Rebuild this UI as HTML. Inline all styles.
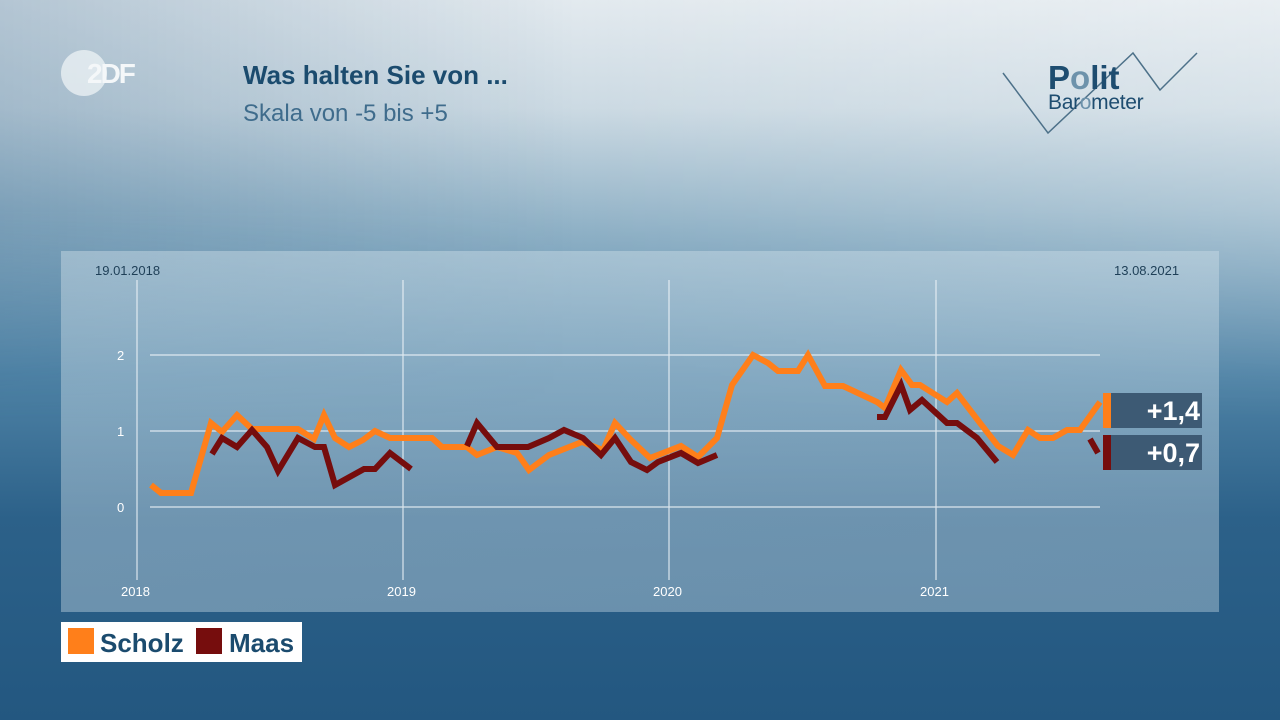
<!DOCTYPE html>
<html><head><meta charset="utf-8"><style>
html,body{margin:0;padding:0}
body{width:1280px;height:720px;overflow:hidden;position:relative;font-family:"Liberation Sans",sans-serif;
background:linear-gradient(180deg,#e3eaef 0%,#ccdae3 15%,#8fb1c6 32%,#4f83a6 52%,#2c6189 72%,#235780 100%);}
.t{position:absolute;white-space:nowrap}
</style></head><body>
<div style="position:absolute;left:0;top:0;width:1280px;height:420px;background:linear-gradient(90deg,rgba(40,90,130,0.25) 0%,rgba(255,255,255,0) 45%,rgba(255,255,255,0.22) 100%);-webkit-mask-image:linear-gradient(180deg,#000 0%,#000 50%,transparent 100%);mask-image:linear-gradient(180deg,#000 0%,#000 50%,transparent 100%)"></div>
<svg width="1280" height="720" style="position:absolute;left:0;top:0">
<defs><linearGradient id="p" x1="0" y1="0" x2="1" y2="1">
<stop offset="0" stop-color="#dbe8ef" stop-opacity="0.4"/><stop offset="1" stop-color="#c9dbe6" stop-opacity="0.4"/></linearGradient></defs>
<rect x="61" y="251" width="1158" height="361" fill="url(#p)"/>
<g stroke="#eef4f8" stroke-width="1.2" opacity="0.85">
<line x1="150" y1="355" x2="1100" y2="355"/><line x1="150" y1="431" x2="1100" y2="431"/><line x1="150" y1="507" x2="1100" y2="507"/>
<line x1="137" y1="280" x2="137" y2="580"/><line x1="403" y1="280" x2="403" y2="580"/><line x1="669" y1="280" x2="669" y2="580"/><line x1="936" y1="280" x2="936" y2="580"/>
</g>
<g fill="none" stroke-width="6" stroke-linejoin="miter" stroke-linecap="butt">
<polyline stroke="#ff7f1a" points="151,485 161,493 191,493 211,423 222,432 237,415 252,429 298,429 314,439 324,415 335,438 349,447 363,440 375,431 390,438 432,438 442,447 467,447 477,455 497,447 517,453 529,470 549,455 582,442 603,450 615,423 631,440 650,458 681,446 698,457 717,438 732,385 753,355 768,363 778,371 798,371 808,355 825,386 843,386 877,402 885,408 901,370 912,385 920,385 947,402 957,393 980,423 998,446 1013,455 1028,430 1040,438 1053,438 1067,430 1080,430 1100,402"/>
<polyline stroke="#760d0d" points="212,454 222,438 237,447 252,430 267,447 278,471 298,438 315,447 324,447 335,485 364,469 375,469 390,453 411,469"/>
<polyline stroke="#760d0d" points="467,446 477,423 497,447 528,447 549,438 564,430 583,438 601,455 615,438 631,462 647,470 658,462 681,453 698,463 717,455"/>
<polyline stroke="#760d0d" points="877,417 885,417 901,385 910,410 922,400 947,423 957,423 977,438 997,462"/>
<polyline stroke="#760d0d" points="1090,439 1098,453"/>
</g>
<rect x="1103" y="393" width="8" height="35" fill="#ff7f1a"/><rect x="1111" y="393" width="91" height="35" fill="#3d5a74"/>
<rect x="1103" y="435" width="8" height="35" fill="#760d0d"/><rect x="1111" y="435" width="91" height="35" fill="#3d5a74"/>
<circle cx="84" cy="73" r="23" fill="#eef3f6" opacity="0.75"/>
<polyline points="1003,73 1048,133 1133,53 1160,90 1197,53" fill="none" stroke="#4d7189" stroke-width="1.5"/>
<rect x="61" y="622" width="241" height="40" fill="#fff"/>
<rect x="68" y="628" width="26" height="26" fill="#ff7f1a"/><rect x="196" y="628" width="26" height="26" fill="#760d0d"/>
</svg>
<div class="t" style="left:87px;top:58px;font-size:28px;font-weight:bold;color:#f4f7f9;letter-spacing:-2px">2DF</div>
<div class="t" style="left:243px;top:60px;font-size:26px;font-weight:bold;color:#1b4b6e">Was halten Sie von ...</div>
<div class="t" style="left:243px;top:100px;font-size:24px;color:#3f6c8c">Skala von -5 bis +5</div>
<div class="t" style="left:1048px;top:59px;font-size:33px;font-weight:bold;color:#1e4d70">P<span style="color:#6d92ab">o</span>lit</div>
<div class="t" style="left:1048px;top:91px;font-size:21px;color:#1e4d70;letter-spacing:-0.3px">Bar<span style="color:#6d92ab">o</span>meter</div>
<div class="t" style="left:95px;top:263px;font-size:13px;color:#1e3f57">19.01.2018</div>
<div class="t" style="left:1114px;top:263px;font-size:13px;color:#1e3f57">13.08.2021</div>
<div class="t" style="left:117px;top:348px;font-size:13px;color:#fff">2</div>
<div class="t" style="left:117px;top:424px;font-size:13px;color:#fff">1</div>
<div class="t" style="left:117px;top:500px;font-size:13px;color:#fff">0</div>
<div class="t" style="left:121px;top:584px;font-size:13px;color:#fff">2018</div>
<div class="t" style="left:387px;top:584px;font-size:13px;color:#fff">2019</div>
<div class="t" style="left:653px;top:584px;font-size:13px;color:#fff">2020</div>
<div class="t" style="left:920px;top:584px;font-size:13px;color:#fff">2021</div>
<div class="t" style="left:1111px;top:396px;width:89px;text-align:right;font-size:27px;font-weight:bold;color:#fff">+1,4</div>
<div class="t" style="left:1111px;top:438px;width:89px;text-align:right;font-size:27px;font-weight:bold;color:#fff">+0,7</div>
<div class="t" style="left:100px;top:628px;font-size:26px;font-weight:bold;color:#1b4b6e">Scholz</div>
<div class="t" style="left:229px;top:628px;font-size:26px;font-weight:bold;color:#1b4b6e">Maas</div>
</body></html>
